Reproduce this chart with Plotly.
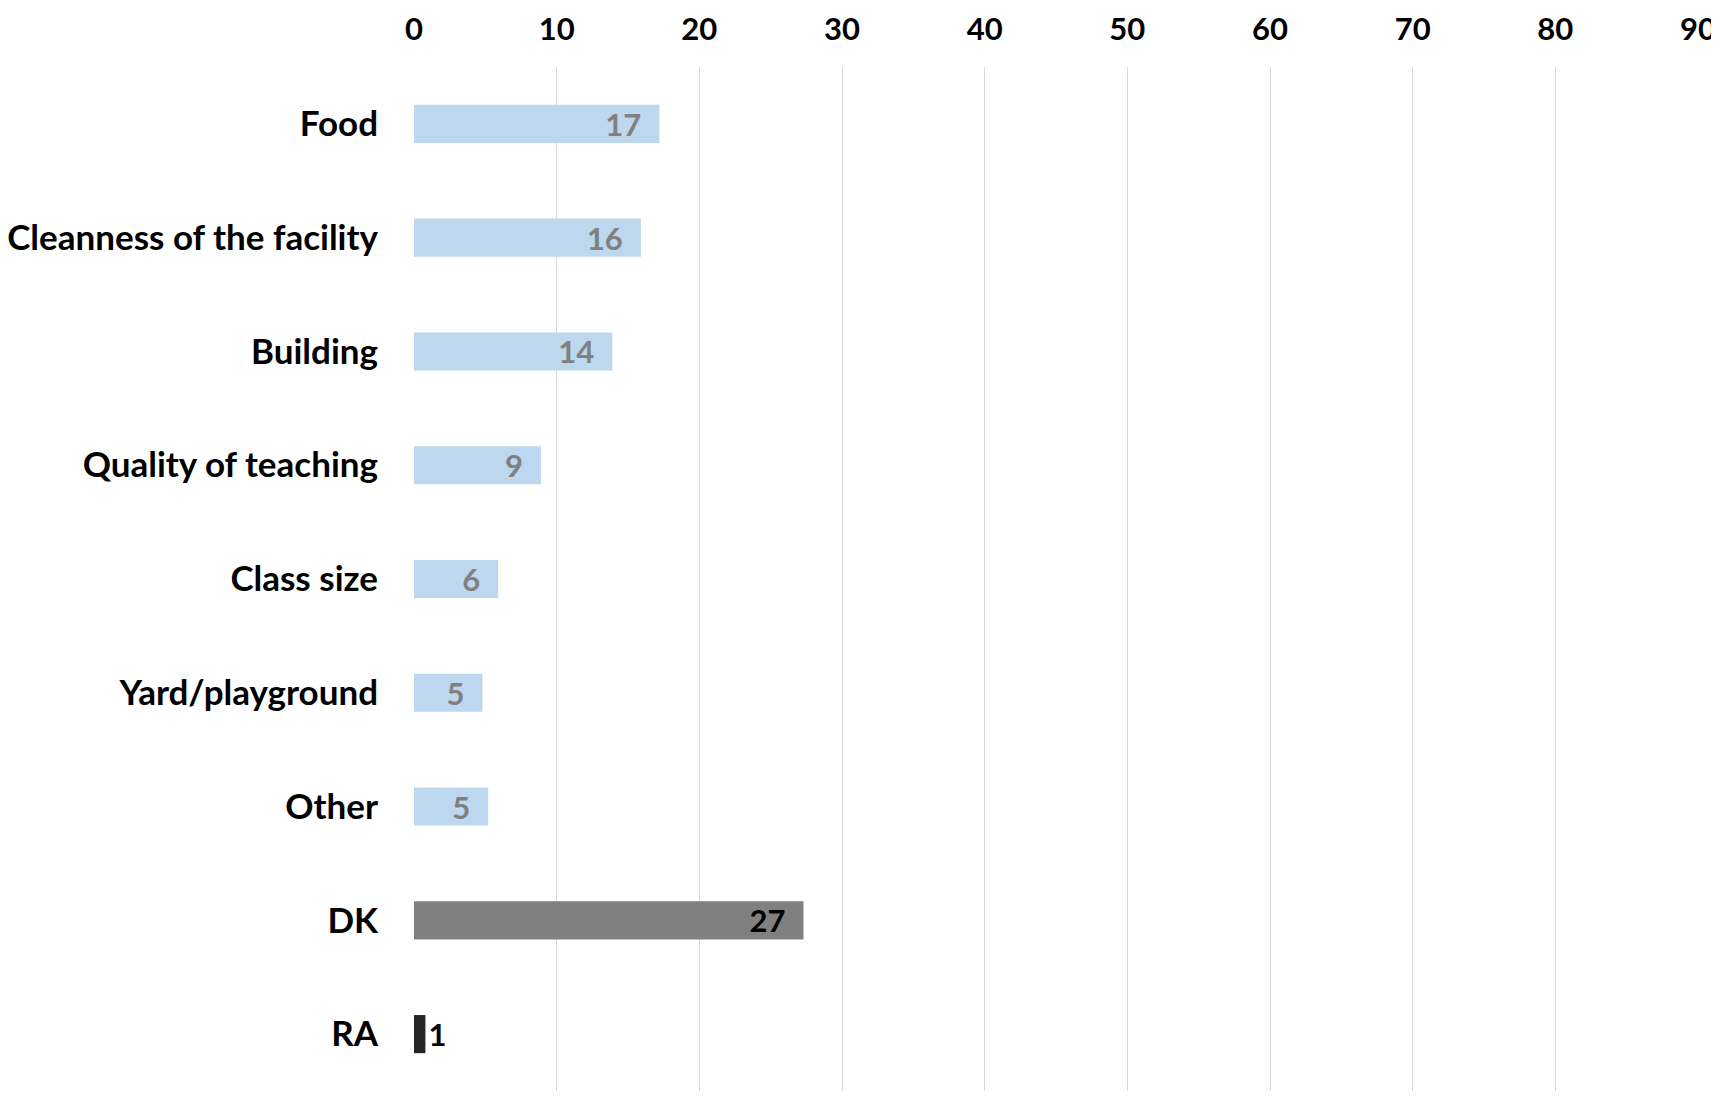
import plotly.graph_objects as go

categories = ["Food", "Cleanness of the facility", "Building", "Quality of teaching",
              "Class size", "Yard/playground", "Other", "DK", "RA"]
values = [17.2, 15.9, 13.9, 8.9, 5.9, 4.8, 5.2, 27.3, 0.8]
bar_colors = ["#BDD7EE"] * 7 + ["#808080", "#262626"]
label_colors = ["#808080"] * 7 + ["#000000", "#000000"]
label_positions = ["inside"] * 8 + ["outside"]
x_ticks = [0, 10, 20, 30, 40, 50, 60, 70, 80, 90]

FONT = "Lato"
PAD = "\u00a0\u00a0"
label_templates = ["%{x:.0f}" + PAD if p == "inside" else "%{x:.0f}" for p in label_positions]

fig = go.Figure(go.Bar(
    y=categories,
    x=values,
    orientation="h",
    marker=dict(color=bar_colors, line=dict(width=0)),
    width=0.335,
    texttemplate=label_templates,
    textposition=label_positions,
    insidetextanchor="end",
    textangle=0,
    constraintext="none",
    textfont=dict(family=FONT, size=31, color=label_colors, weight="bold"),
    cliponaxis=False,
))

fig.update_layout(
    width=1711, height=1083,
    margin=dict(l=406, r=21, t=59, b=0),
    plot_bgcolor="white", paper_bgcolor="white",
    showlegend=False,
    font=dict(family=FONT, size=30, color="#000000"),
    xaxis=dict(
        side="top", range=[0, 90], tickvals=x_ticks,
        showgrid=True, gridcolor="#D9D9D9", gridwidth=1,
        zeroline=False, showline=False, ticks="",
        ticklabelstandoff=20, automargin=False,
        tickfont=dict(family=FONT, size=31, color="#000000", weight="bold"),
    ),
    yaxis=dict(
        autorange="reversed", showgrid=False, showline=False, zeroline=False,
        ticks="", ticklabelstandoff=35, automargin=False,
        tickfont=dict(family=FONT, size=35, color="#000000", weight="bold"),
    ),
)

fig.write_html("out.html")
